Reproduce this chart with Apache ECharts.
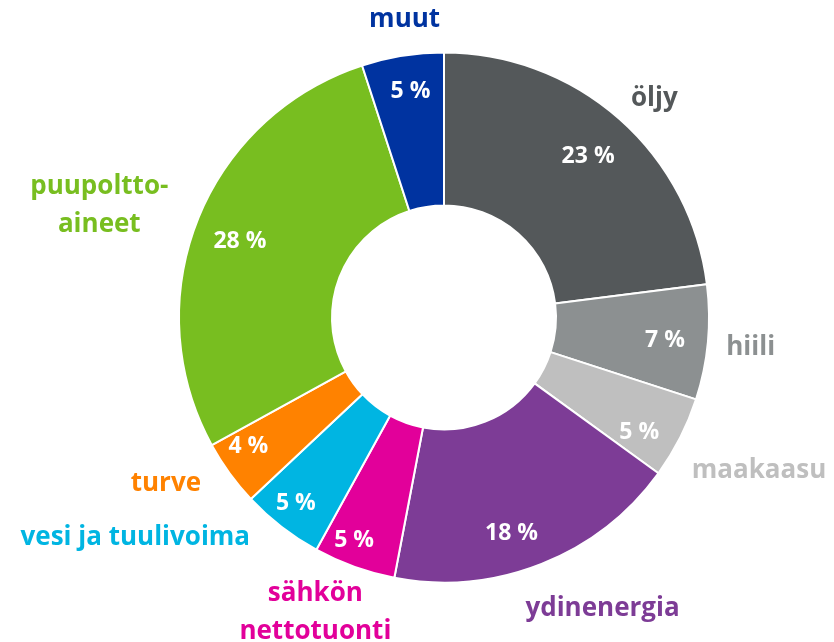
<!DOCTYPE html>
<html>
<head>
<meta charset="utf-8">
<script src="https://cdn.jsdelivr.net/npm/echarts@6/dist/echarts.min.js"></script>
<style>
  html, body { margin: 0; padding: 0; background: #fff; }
  #chart { width: 834px; height: 642px; }
</style>
</head>
<body>
<div id="chart"></div>
<script>
// energialähteet, prosenttia
const names = ['öljy', 'hiili', 'maakaasu', 'ydinenergia', 'sähkön\nnettotuonti', 'vesi ja tuulivoima', 'turve', 'puupoltto-\naineet', 'muut']
const values = [23, 7, 5, 18, 5, 5, 4, 28, 5]
const colors = ['#54585a', '#8c9091', '#bfbfbf', '#7d3c96', '#e2009a', '#00b5e2', '#ff8200', '#78be20', '#0033a0']

// label nudges (px) from the ring position
const innerShift = [[-6, 9], [-5, 2], [-7, 12], [-16, 5], [-13, 9], [-9, 7], [-12, -4], [7, 8], [2, -2]]
const outerShift = [[10, 8], [5, 2], [45, 16], [47, 9], [-26, 10], [-123, -19], [-33, -12], [-63, 0], [8, 1]]

const font = '"Open Sans", "Noto Sans", sans-serif'
const center = [444, 317.5]

const data = names.map((n, i) => ({
  name: n,
  value: values[i],
  itemStyle: { color: colors[i] }
}))

const ghost = (radius, shift, label, itemLabel) => ({
  type: 'pie',
  center: center,
  radius: radius,
  silent: true,
  avoidLabelOverlap: false,
  itemStyle: { color: 'rgba(0,0,0,0)', borderWidth: 0 },
  emphasis: { disabled: true },
  labelLine: { show: false },
  label: label,
  labelLayout: function(p) {
    return { dx: shift[p.dataIndex][0], dy: shift[p.dataIndex][1] }
  },
  data: names.map((n, i) => ({ name: n, value: values[i], label: itemLabel ? itemLabel(i) : {} })),
  z: 3
})

const option = {
  animation: false,
  series: [
    {
      type: 'pie',
      center: center,
      radius: [112, 265],
      silent: true,
      avoidLabelOverlap: false,
      itemStyle: { borderColor: '#fff', borderWidth: 2 },
      label: { show: false },
      labelLine: { show: false },
      emphasis: { disabled: true },
      data: data
    },
    ghost([223, 225], innerShift, {
      show: true,
      position: 'inside',
      color: '#fff',
      fontFamily: font,
      fontWeight: 'bold',
      fontSize: 23,
      formatter: '{c} %'
    }),
    ghost([299, 301], outerShift, {
      show: true,
      position: 'inside',
      fontFamily: font,
      fontWeight: 'bold',
      fontSize: 26,
      lineHeight: 38,
      formatter: '{b}'
    }, i => ({ color: colors[i] }))
  ]
}

const chart = echarts.init(document.getElementById('chart'))
chart.setOption(option)
</script>
</body>
</html>
